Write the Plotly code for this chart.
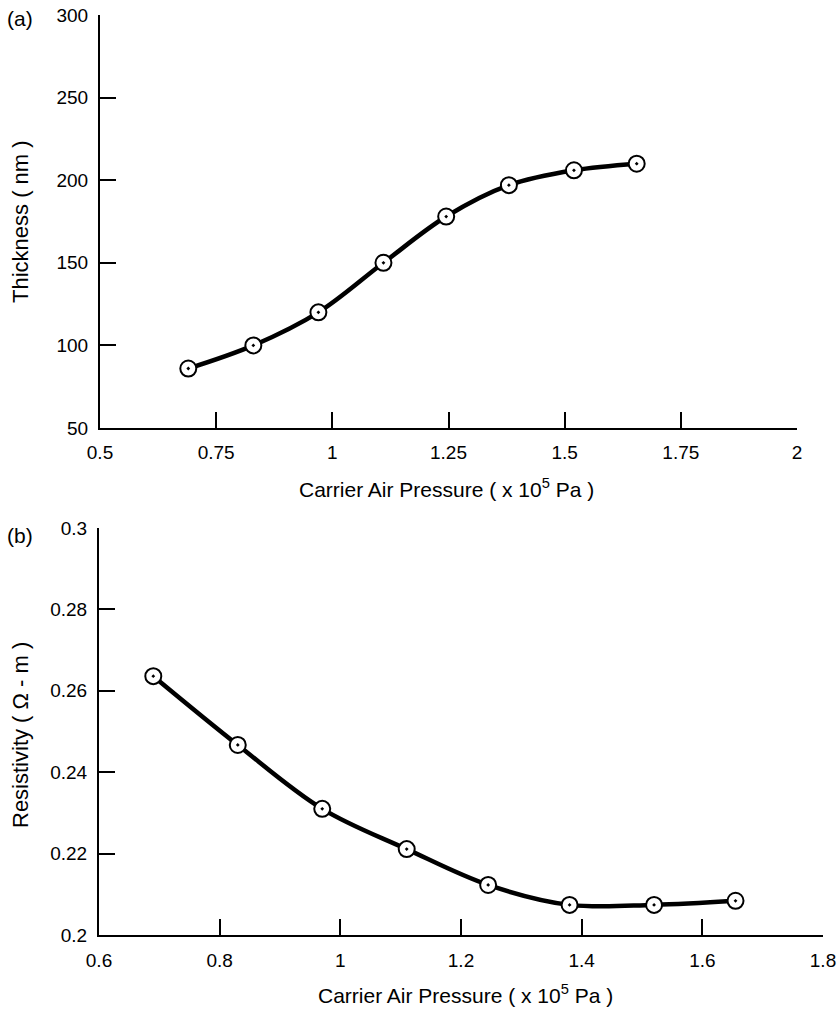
import plotly.graph_objects as go

# ---- data ----
pressure = [0.69, 0.83, 0.97, 1.11, 1.245, 1.38, 1.52, 1.655]
thickness = [86, 100, 120, 150, 178, 197, 206, 210]
resistivity = [0.2636, 0.2467, 0.231, 0.2211, 0.2123, 0.2074, 0.2074, 0.2084]

xa_ticks = [0.5, 0.75, 1, 1.25, 1.5, 1.75, 2]
xa_text = ["0.5", "0.75", "1", "1.25", "1.5", "1.75", "2"]
ya_ticks = [50, 100, 150, 200, 250, 300]
xb_ticks = [0.6, 0.8, 1.0, 1.2, 1.4, 1.6, 1.8]
xb_text = ["0.6", "0.8", "1", "1.2", "1.4", "1.6", "1.8"]
yb_ticks = [0.2, 0.22, 0.24, 0.26, 0.28, 0.3]
yb_text = ["0.2", "0.22", "0.24", "0.26", "0.28", "0.3"]

W, H = 837, 1013
FONT = "Liberation Sans, Arial, sans-serif"

fig = go.Figure()

for xs, ys, xa, ya in [(pressure, thickness, "x", "y"), (pressure, resistivity, "x2", "y2")]:
    fig.add_trace(go.Scatter(
        x=xs, y=ys, xaxis=xa, yaxis=ya, mode="lines",
        line=dict(color="black", width=4.5, shape="spline", smoothing=1.0),
        hoverinfo="skip", showlegend=False))
    fig.add_trace(go.Scatter(
        x=xs, y=ys, xaxis=xa, yaxis=ya, mode="markers",
        marker=dict(symbol="circle-dot", size=16, color="white",
                    line=dict(color="black", width=2)),
        cliponaxis=False, showlegend=False))

axis_common = dict(showline=True, linecolor="black", linewidth=2,
                   ticks="inside", ticklen=16, tickwidth=2, tickcolor="black",
                   showgrid=False, zeroline=False, automargin=False,
                   ticklabeloverflow="allow",
                   tickfont=dict(family=FONT, size=19, color="black"))

fig.update_layout(
    width=W, height=H,
    margin=dict(l=0, r=0, t=0, b=0),
    paper_bgcolor="white", plot_bgcolor="white",
    xaxis=dict(domain=[100 / W, 797 / W], range=[0.5, 2], tickvals=xa_ticks,
               ticktext=xa_text, anchor="y", ticklabelstandoff=6, **axis_common),
    yaxis=dict(domain=[1 - 428 / H, 1 - 15 / H], range=[50, 300], tickvals=ya_ticks,
               anchor="x", ticklabelstandoff=6, **axis_common),
    xaxis2=dict(domain=[99 / W, 823 / W], range=[0.6, 1.8], tickvals=xb_ticks,
                ticktext=xb_text, anchor="y2", ticklabelstandoff=7, **axis_common),
    yaxis2=dict(domain=[1 - 935 / H, 1 - 528 / H], range=[0.2, 0.3], tickvals=yb_ticks,
                ticktext=yb_text, anchor="x2", ticklabelstandoff=6, **axis_common),
)

title_font = dict(family=FONT, size=21, color="black")
ytitle_font = dict(family=FONT, size=22, color="black")
ann = [
    dict(text="(a)", x=20 / W, y=1 - 18 / H, font=title_font),
    dict(text="(b)", x=20 / W, y=1 - 535 / H, font=title_font),
    dict(text="Carrier Air Pressure ( x 10<sup>5</sup> Pa )", x=446 / W, y=1 - 488 / H, font=title_font),
    dict(text="Carrier Air Pressure ( x 10<sup>5</sup> Pa )", x=465 / W, y=1 - 994 / H, font=title_font),
    dict(text="Thickness ( nm )", x=20 / W, y=1 - 222 / H, textangle=-90, font=ytitle_font),
    dict(text="Resistivity ( Ω - m )", x=20 / W, y=1 - 735 / H, textangle=-90, font=ytitle_font),
]
for a in ann:
    fig.add_annotation(xref="paper", yref="paper", showarrow=False,
                       xanchor="center", yanchor="middle", **a)

fig.write_html("out.html", config={"displayModeBar": False},
               post_script="document.body.style.margin='0';")
